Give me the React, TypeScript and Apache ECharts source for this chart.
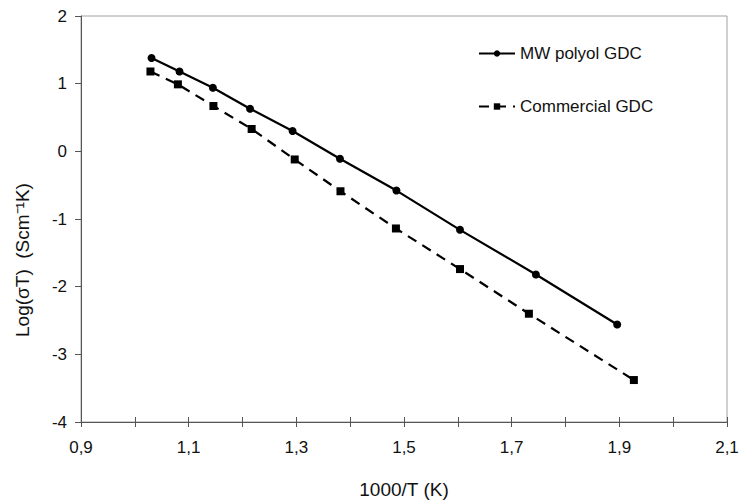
import React, { useEffect, useRef } from "react";
import * as echarts from "echarts";

const mwX = [1.031, 1.083, 1.145, 1.214, 1.293, 1.381, 1.486, 1.604, 1.745, 1.896];
const mwY = [1.38, 1.18, 0.94, 0.63, 0.3, -0.11, -0.58, -1.16, -1.82, -2.56];
const comX = [1.029, 1.08, 1.146, 1.217, 1.297, 1.382, 1.485, 1.604, 1.732, 1.927];
const comY = [1.18, 0.99, 0.67, 0.33, -0.12, -0.59, -1.14, -1.74, -2.4, -3.38];
const seriesNames = ["MW polyol GDC", "Commercial GDC"];
const xTitle = "1000/T (K)";
const yTitle = "Log(σT)  (Scm⁻¹K)";

const FONT = "'Liberation Sans', Arial, sans-serif";

export default function App() {
  const ref = useRef<HTMLDivElement>(null);
  useEffect(() => {
    if (!ref.current) return;
    const chart = echarts.init(ref.current, null, { renderer: "svg" });
    const zip = (xs: number[], ys: number[]) => xs.map((x, i) => [x, ys[i]]);
    const axisColor = "#555";
    chart.setOption({
      animation: false,
      backgroundColor: "#fff",
      textStyle: { fontFamily: FONT },
      grid: {
        left: 81,
        right: 15,
        top: 16,
        bottom: 79,
        show: true,
        borderColor: "#a0a0a0",
        borderWidth: 1,
      },
      legend: {
        orient: "vertical",
        left: 473,
        top: 40,
        itemWidth: 36,
        itemHeight: 8,
        itemGap: 36,
        data: seriesNames,
        textStyle: { fontFamily: FONT, fontSize: 17, color: "#111" },
      },
      xAxis: [
        {
          type: "value",
          min: 0.9,
          max: 2.1,
          interval: 0.1,
          axisLine: { show: true, onZero: false, lineStyle: { color: axisColor, width: 1 } },
          axisTick: { show: true, inside: false, length: 5, lineStyle: { color: axisColor } },
          axisLabel: {
            margin: 17,
            fontFamily: FONT,
            fontSize: 17,
            color: "#111",
            formatter: (v: number) =>
              Math.round(v * 10) % 2 === 1 ? v.toFixed(1).replace(".", ",") : "",
          },
          splitLine: { show: false },
        },
        {
          type: "value",
          position: "bottom",
          min: 0.9,
          max: 2.1,
          interval: 0.1,
          axisLine: { show: false, onZero: false },
          axisTick: { show: true, inside: true, length: 5, lineStyle: { color: axisColor } },
          axisLabel: { show: false },
          splitLine: { show: false },
        },
      ],
      yAxis: {
        type: "value",
        min: -4,
        max: 2,
        interval: 1,
        axisLine: { show: true, onZero: false, lineStyle: { color: axisColor, width: 1 } },
        axisTick: { show: true, inside: false, length: 6, lineStyle: { color: axisColor } },
        axisLabel: { margin: 14, fontFamily: FONT, fontSize: 17, color: "#111" },
        splitLine: { show: false },
      },
      series: [
        {
          name: seriesNames[0],
          type: "line",
          xAxisIndex: 0,
          data: zip(mwX, mwY),
          symbol: "circle",
          symbolSize: 8,
          itemStyle: { color: "#000" },
          lineStyle: { color: "#000", width: 2.2 },
        },
        {
          name: seriesNames[1],
          type: "line",
          xAxisIndex: 0,
          data: zip(comX, comY),
          symbol: "rect",
          symbolSize: 8,
          itemStyle: { color: "#000" },
          lineStyle: { color: "#000", width: 2.2, type: [10, 7] },
        },
      ],
      graphic: [
        {
          type: "text",
          x: 404,
          y: 489,
          style: {
            text: xTitle,
            fontFamily: FONT,
            fontSize: 19,
            fill: "#111",
            align: "center",
            verticalAlign: "middle",
          },
        },
        {
          type: "text",
          x: 22,
          y: 260,
          rotation: Math.PI / 2,
          style: {
            text: yTitle,
            fontFamily: FONT,
            fontSize: 19,
            fill: "#111",
            align: "center",
            verticalAlign: "middle",
          },
        },
      ],
    });
    return () => chart.dispose();
  }, []);
  return (
    <div
      ref={ref}
      style={{ position: "fixed", left: 0, top: 0, width: 742, height: 501, background: "#fff" }}
    />
  );
}
